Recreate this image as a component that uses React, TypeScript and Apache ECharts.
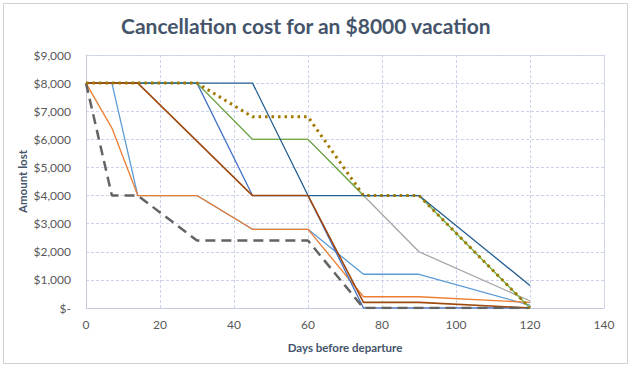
import React, { useEffect, useRef } from "react";
import * as echarts from "echarts";

const title = "Cancellation cost for an $8000 vacation";
const xAxisName = "Days before departure";
const yAxisName = "Amount lost";
const xTicks = [0, 20, 40, 60, 80, 100, 120, 140];
const yTicks = [0, 1000, 2000, 3000, 4000, 5000, 6000, 7000, 8000, 9000];

const lightBlueDays = [0, 7, 14, 30, 45, 60, 75, 90, 120];
const lightBlueCost = [8000, 8000, 4000, 4000, 2800, 2800, 1200, 1200, 100];

const orangeDays = [0, 7, 14, 30, 45, 60, 75, 90, 120];
const orangeCost = [8000, 6400, 4000, 4000, 2800, 2800, 400, 400, 200];

const grayDays = [0, 30, 45, 60, 75, 90, 120];
const grayCost = [8000, 8000, 6000, 6000, 4000, 2000, 250];

const blueDays = [0, 30, 45, 60, 75, 90, 120];
const blueCost = [8000, 8000, 4000, 4000, 0, 0, 0];

const greenDays = [0, 30, 45, 60, 75, 90, 120];
const greenCost = [8000, 8000, 6000, 6000, 4000, 4000, 0];

const navyDays = [0, 45, 60, 90, 120];
const navyCost = [8000, 8000, 4000, 4000, 800];

const brownDays = [0, 14, 45, 60, 75, 90, 120];
const brownCost = [8000, 8000, 4000, 4000, 200, 200, 0];

const dashedDays = [0, 7, 14, 30, 60, 75, 120];
const dashedCost = [8000, 4000, 4000, 2400, 2400, 0, 0];

const dottedDays = [0, 30, 45, 60, 75, 90, 120];
const dottedCost = [8000, 8000, 6800, 6800, 4000, 4000, 0];

const pairs = (d: number[], v: number[]) => d.map((x, i) => [x, v[i]]);

const fmtMoney = (v: number) =>
  v === 0 ? "$-" : "$" + v.toLocaleString("en-US");

export default function App() {
  const ref = useRef<HTMLDivElement>(null);
  useEffect(() => {
    if (!ref.current) return;
    const chart = echarts.init(ref.current, null, { renderer: "svg" });
    const line = (
      name: string,
      d: number[],
      v: number[],
      color: string,
      width = 1.3,
      type: any = "solid",
      z = 2
    ) => ({
      name,
      type: "line",
      data: pairs(d, v),
      showSymbol: false,
      symbol: "none",
      z,
      lineStyle: { color, width, type },
      itemStyle: { color },
    });
    chart.setOption({
      animation: false,
      backgroundColor: "#ffffff",
      textStyle: { fontFamily: "Lato, 'Open Sans', sans-serif" },
      title: {
        text: title,
        left: 116,
        top: 10,
        textStyle: {
          fontSize: 21,
          fontWeight: "bold",
          color: "#44546A",
          fontFamily: "Lato, 'Open Sans', sans-serif",
        },
      },
      grid: { left: 86, right: 28, top: 55, bottom: 63, containLabel: false },
      xAxis: {
        type: "value",
        min: 0,
        max: 140,
        interval: 20,
        name: xAxisName,
        nameLocation: "middle",
        nameGap: 33,
        nameMoveOverlap: false,
        nameTextStyle: { fontSize: 11.5, fontWeight: "bold", color: "#44546A" },
        axisLine: { show: true, lineStyle: { color: "#C5CAE0" } },
        axisTick: { show: false },
        axisLabel: {
          color: "#595959",
          fontSize: 12,
          margin: 10,
          formatter: (v: number) => (xTicks.includes(v) ? String(v) : ""),
        },
        splitLine: {
          show: true,
          lineStyle: { color: "#CCD3E8", type: [3, 2], width: 1 },
        },
      },
      yAxis: {
        type: "value",
        min: 0,
        max: 9000,
        interval: 1000,
        name: yAxisName,
        nameLocation: "middle",
        nameGap: 58,
        nameMoveOverlap: false,
        nameTextStyle: { fontSize: 11.5, fontWeight: "bold", color: "#44546A" },
        axisLine: { show: true, lineStyle: { color: "#C5CAE0" } },
        axisTick: { show: false },
        axisLabel: {
          color: "#595959",
          fontSize: 12,
          margin: 15,
          formatter: (v: number) => (yTicks.includes(v) ? fmtMoney(v) : ""),
        },
        splitLine: {
          show: true,
          lineStyle: { color: "#CCD3E8", type: [3, 2], width: 1 },
        },
      },
      graphic: [
        {
          type: "rect",
          shape: { x: 3.5, y: 3.5, width: 624, height: 360 },
          style: { fill: "none", stroke: "#D0D0D0", lineWidth: 1 },
          silent: true,
        },
        {
          type: "line",
          shape: { x1: 604.5, y1: 55, x2: 604.5, y2: 308 },
          style: { stroke: "#D5DAEA", lineWidth: 1 },
          silent: true,
        },
        {
          type: "line",
          shape: { x1: 86, y1: 55.5, x2: 604, y2: 55.5 },
          style: { stroke: "#D5DAEA", lineWidth: 1 },
          silent: true,
        },
      ],
      series: [
        line("Light blue", lightBlueDays, lightBlueCost, "#5B9BD5"),
        line("Orange", orangeDays, orangeCost, "#ED7D31"),
        line("Gray", grayDays, grayCost, "#A5A5A5"),
        line("Blue", blueDays, blueCost, "#4472C4"),
        line("Green", greenDays, greenCost, "#70AD47"),
        line("Navy", navyDays, navyCost, "#255E91"),
        line("Brown", brownDays, brownCost, "#9E480E", 1.6),
        line("Dashed", dashedDays, dashedCost, "#636363", 2.5, [10, 6], 4),
        line("Dotted", dottedDays, dottedCost, "#A07800", 3, [2.5, 4], 5),
      ],
    });
    return () => chart.dispose();
  }, []);
  return (
    <div
      ref={ref}
      style={{ position: "absolute", left: 0, top: 0, width: 632, height: 371 }}
    />
  );
}
